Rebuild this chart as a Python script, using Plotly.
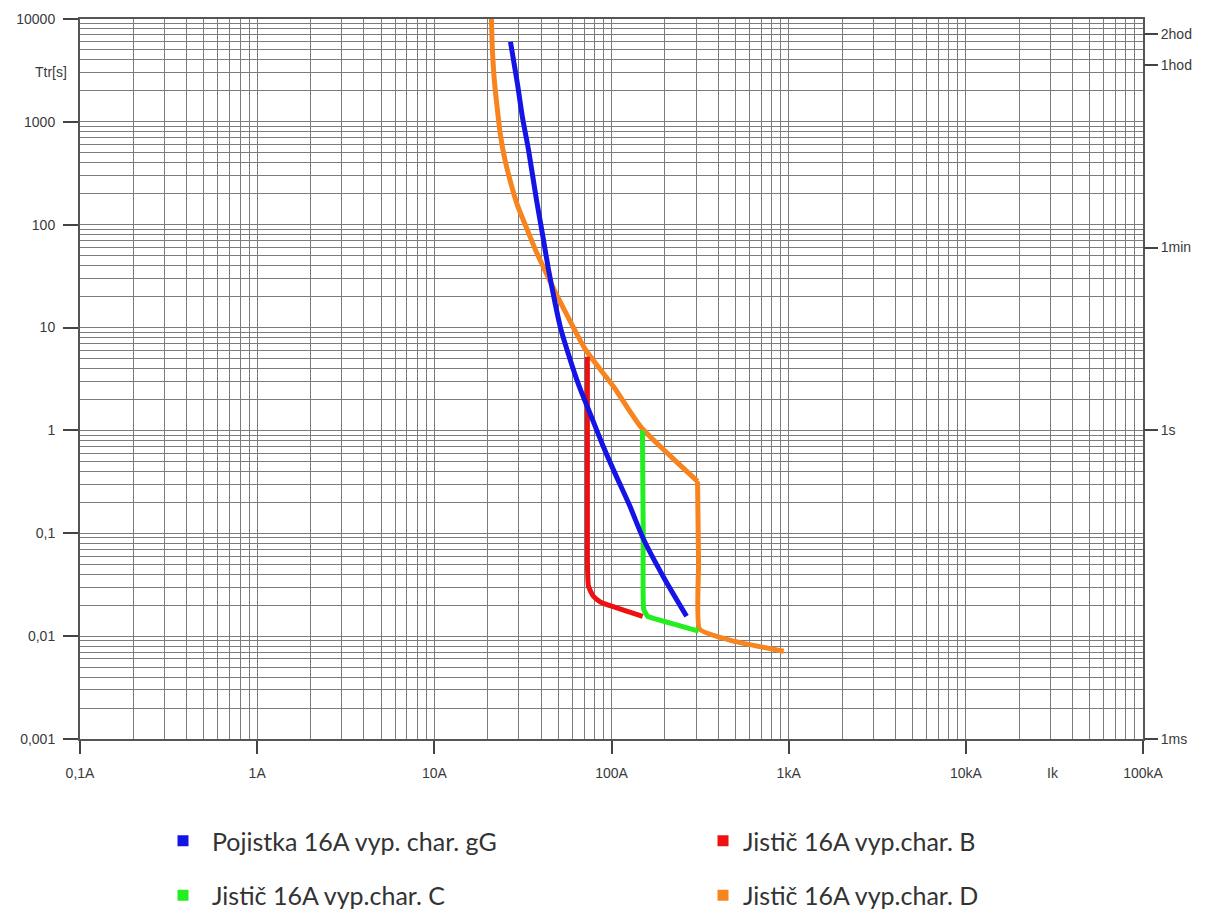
import plotly.graph_objects as go

# ---------------- data ----------------
gg_current = [26.9, 29.4, 31.4, 34.0, 37.7, 41.3, 44.1, 47.6, 51.5, 57.2, 65.1, 76.1, 88.9,
              105.3, 126.4, 151.7, 196.8, 265.3]
gg_time = [5990, 2393, 1119, 535, 175, 71.5, 36.6, 18.7, 10.0, 5.47, 2.80, 1.43, 0.731,
           0.374, 0.187, 0.0875, 0.0374, 0.0156]

b_current = [73.1, 73.1, 74.1, 79.1, 86.7, 96.2, 112.5, 150]
b_time = [5.2, 0.056, 0.0306, 0.0244, 0.0214, 0.0200, 0.0183, 0.0156]

c_current = [149.5, 151, 152, 160, 215, 310]
c_time = [1.0, 0.1, 0.0183, 0.0156, 0.0134, 0.0112]

d_current = [21.0, 21.27, 21.8, 22.7, 23.6, 24.9, 26.9, 29.4, 33.1, 37.2, 42.4, 48.3, 58.6,
             71.3, 102.6, 146, 210, 306, 310, 314, 489, 937]
d_time = [10000, 5000, 2557, 1309, 748, 447, 261, 156, 93.5, 57.2, 35.0, 21.9, 11.4,
          6.1, 2.67, 1.09, 0.585, 0.32, 0.05, 0.0117, 0.00893, 0.00714]
d_break = 17  # index of the sharp corner where the D curve turns vertical

series_names = ["Pojistka 16A vyp. char. gG", "Jistič 16A vyp.char. B",
                "Jistič 16A vyp.char. C", "Jistič 16A vyp.char. D"]
series_colors = ["#1414e6", "#ee1111", "#22ee22", "#f7841e"]

x_tickvals = [0.1, 1, 10, 100, 1000, 10000, 100000]
x_ticktext = ["0,1A", "1A", "10A", "100A", "1kA", "10kA", "100kA"]
y_tickvals = [0.001, 0.01, 0.1, 1, 10, 100, 1000, 10000]
y_ticktext = ["0,001", "0,01", "0,1", "1", "10", "100", "1000", "10000"]
y2_tickvals = [7200, 3600, 60, 1, 0.001]
y2_ticktext = ["2hod", "1hod", "1min", "1s", "1ms"]

x_minor = [m * 10.0 ** e for e in range(-1, 5) for m in range(2, 10)]
y_minor = [m * 10.0 ** e for e in range(-3, 4) for m in range(2, 10)]

# ---------------- figure ----------------
fig = go.Figure()

curves = [
    (d_current[:d_break + 1], d_time[:d_break + 1], series_colors[3], 0.7),
    (d_current[d_break:], d_time[d_break:], series_colors[3], 0.4),
    (b_current, b_time, series_colors[1], 0.5),
    (c_current, c_time, series_colors[2], 0.4),
    (gg_current, gg_time, series_colors[0], 0.7),
]
for xs, ys, col, sm in curves:
    fig.add_trace(go.Scatter(x=xs, y=ys, mode="lines",
                             line=dict(color=col, width=5, shape="spline", smoothing=sm),
                             showlegend=False, hoverinfo="skip"))

# legend entries (square swatches)
legend_assign = [("legend", 0), ("legend2", 1), ("legend", 2), ("legend2", 3)]
for lg, i in legend_assign:
    fig.add_trace(go.Scatter(x=[None], y=[None], mode="markers", yaxis="y2",
                             marker=dict(symbol="square", size=11, color=series_colors[i]),
                             name=series_names[i], legend=lg, legendgroup="g%d" % i,
                             showlegend=True))

tick_font = dict(family="Liberation Sans, Arial, sans-serif", size=14, color="#3a3a3a")
legend_font = dict(family="Lato", size=25, color="#333333")
grid_col = "#7c7c7c"

fig.update_layout(
    width=1212, height=913,
    margin=dict(l=80, r=69, t=19, b=174, autoexpand=False),
    paper_bgcolor="white", plot_bgcolor="white",
    xaxis=dict(type="log", range=[-1, 5], tickmode="array",
               tickvals=x_tickvals, ticktext=x_ticktext, tickangle=0,
               ticks="outside", ticklen=13, tickwidth=2, tickcolor="#444444",
               ticklabelstandoff=7,
               showline=True, linecolor="#555555", linewidth=2, mirror=True,
               showgrid=True, gridcolor=grid_col, gridwidth=1, zeroline=False,
               minor=dict(tickmode="array", tickvals=x_minor, showgrid=True,
                          gridcolor=grid_col, gridwidth=1, ticks=""),
               tickfont=tick_font),
    yaxis=dict(type="log", range=[-3, 4], tickmode="array",
               tickvals=y_tickvals, ticktext=y_ticktext,
               ticks="outside", ticklen=15, tickwidth=2, tickcolor="#444444",
               ticklabelstandoff=5,
               showline=True, linecolor="#555555", linewidth=2, mirror=True,
               showgrid=True, gridcolor=grid_col, gridwidth=1, zeroline=False,
               minor=dict(tickmode="array", tickvals=y_minor, showgrid=True,
                          gridcolor=grid_col, gridwidth=1, ticks=""),
               tickfont=tick_font),
    yaxis2=dict(type="log", range=[-3, 4], overlaying="y", side="right",
                tickmode="array", tickvals=y2_tickvals, ticktext=y2_ticktext,
                ticks="outside", ticklen=14, tickwidth=2, tickcolor="#444444",
                showgrid=False, zeroline=False, showline=False,
                tickfont=tick_font),
    legend=dict(xref="container", yref="container", x=154 / 1212, y=1 - 818 / 913,
                xanchor="left", yanchor="top", itemwidth=48, tracegroupgap=19,
                font=legend_font, bgcolor="rgba(0,0,0,0)"),
    legend2=dict(xref="container", yref="container", x=703 / 1212, y=1 - 818 / 913,
                 xanchor="left", yanchor="top", itemwidth=30, tracegroupgap=19,
                 font=legend_font, bgcolor="rgba(0,0,0,0)"),
    annotations=[
        dict(text="Ttr[s]", xref="paper", yref="paper", x=(51 - 80) / 1063, y=(739 - 72) / 720,
             showarrow=False, xanchor="center", yanchor="middle", font=tick_font),
        dict(text="Ik", xref="paper", yref="paper", x=(1053 - 80) / 1063, y=(739 - 773) / 720,
             showarrow=False, xanchor="center", yanchor="middle", font=tick_font),
    ],
)

fig.write_html("out.html")
